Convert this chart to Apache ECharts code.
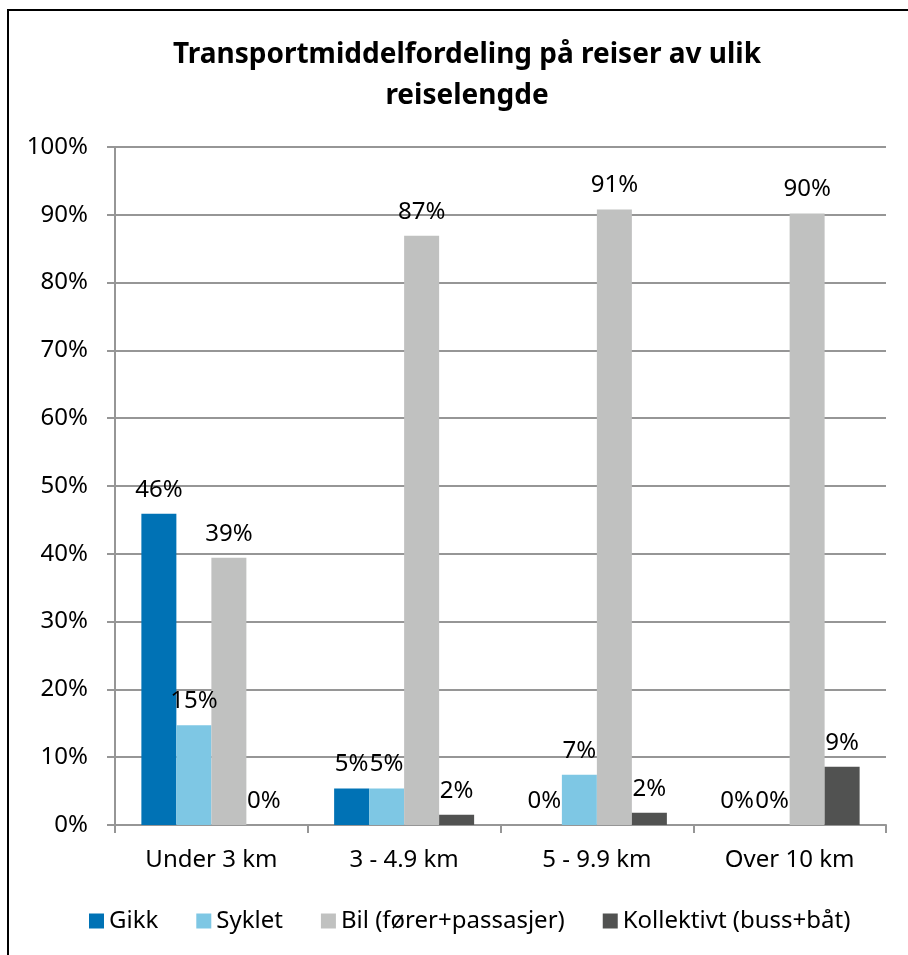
<!DOCTYPE html>
<html>
<head>
<meta charset="utf-8">
<script src="https://cdn.jsdelivr.net/npm/echarts@6/dist/echarts.min.js"></script>
<style>
  html, body { margin: 0; padding: 0; background: #fff; }
  #chart { width: 908px; height: 955px; }
</style>
</head>
<body>
<div id="chart"></div>
<script>
const categories = ["Under 3 km", "3 - 4.9 km", "5 - 9.9 km", "Over 10 km"];
const seriesNames = ["Gikk", "Syklet", "Bil (fører+passasjer)", "Kollektivt (buss+båt)"];
const gikk = [45.9, 5.4, 0, 0];
const syklet = [14.7, 5.4, 7.4, 0];
const bil = [39.4, 86.9, 90.8, 90.2];
const kollektivt = [0, 1.5, 1.8, 8.6];
const yTicks = [0, 10, 20, 30, 40, 50, 60, 70, 80, 90, 100];

const colors = ["#0072B5", "#7EC7E4", "#C0C1C0", "#515251"];
const font = "'Noto Sans', 'Liberation Sans', sans-serif";

const chart = echarts.init(document.getElementById("chart"), null, { renderer: "canvas" });

function bar(name, data, color) {
  return {
    name, type: "bar", data,
    barWidth: 35, barGap: "0%",
    itemStyle: { color },
    label: {
      show: true, position: "top", distance: 12,
      fontFamily: font, fontSize: 24, color: "#000",
      formatter: p => Math.round(p.value) + "%",
    },
  };
}

chart.setOption({
  animation: false,
  textStyle: { fontFamily: font },
  title: {
    text: "Transportmiddelfordeling på reiser av ulik\nreiselengde",
    left: 462, top: 30, textAlign: "center",
    textStyle: { fontFamily: font, fontSize: 28, fontWeight: "bold", color: "#000", lineHeight: 41 },
  },
  graphic: [{
    type: "rect", silent: true,
    shape: { x: 8, y: 10, width: 1000, height: 1000 },
    style: { fill: null, stroke: "#000", lineWidth: 2 },
  }],
  legend: {
    data: seriesNames, left: 84, top: 904,
    icon: "rect", itemWidth: 15, itemHeight: 15, itemGap: 38,
    textStyle: { fontFamily: font, fontSize: 24, color: "#000" },
  },
  grid: { left: 115, right: 22, top: 147, bottom: 130, containLabel: false },
  xAxis: {
    type: "category", data: categories,
    axisLine: { lineStyle: { color: "#969696", width: 2 } },
    axisTick: { show: true, length: 8, lineStyle: { color: "#969696", width: 2 } },
    axisLabel: { margin: 23, fontFamily: font, fontSize: 24, color: "#000" },
  },
  yAxis: {
    type: "value", min: 0, max: 100, interval: 10,
    axisLine: { show: true, lineStyle: { color: "#969696", width: 2 } },
    axisTick: { show: true, length: 8, lineStyle: { color: "#969696", width: 2 } },
    splitLine: { lineStyle: { color: "#969696", width: 2 } },
    axisLabel: {
      margin: 27, fontFamily: font, fontSize: 24, color: "#000",
      formatter: v => (yTicks.includes(v) ? v + "%" : ""),
    },
  },
  series: [
    bar(seriesNames[0], gikk, colors[0]),
    bar(seriesNames[1], syklet, colors[1]),
    bar(seriesNames[2], bil, colors[2]),
    bar(seriesNames[3], kollektivt, colors[3]),
  ],
});
</script>
</body>
</html>
